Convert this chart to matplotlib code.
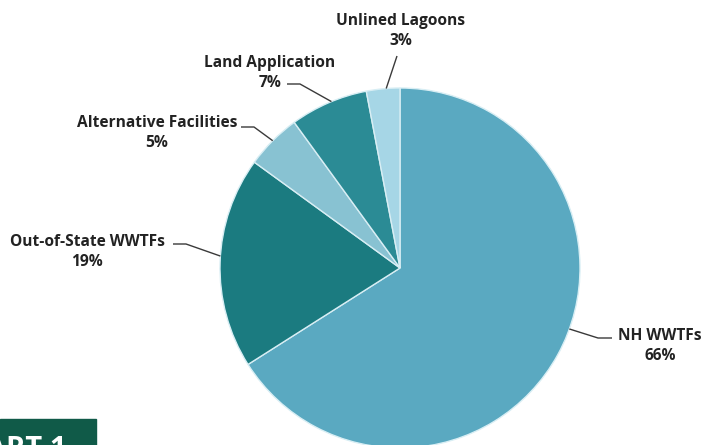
import numpy as np
import matplotlib.pyplot as plt
from matplotlib.patches import Rectangle

# Share of biosolids by management route
labels = ['NH WWTFs', 'Out-of-State WWTFs', 'Alternative Facilities',
          'Land Application', 'Unlined Lagoons']
shares = [66, 19, 5, 7, 3]
colors = ['#5aa9c1', '#1b7b80', '#88c2d2', '#2b8b95', '#a6d6e6']

# label text anchor (centre of text block) and leader-line elbow, in pixels
label_pos = [(660, 346), (87, 252), (157, 133), (270, 73), (401, 31)]
elbows = [(598, 338), (186, 244), (254, 127), (300, 84), (397, 56)]
text_side = ['left', 'right', 'right', 'right', 'center']
# where the leader meets the rim, relative to the wedge's middle (degrees)
rim_shift = [9, -2, 0, -1, -1]

W, H = 704, 445
cx, cy, r = 400, 268, 180

plt.rcParams['font.family'] = ['Open Sans', 'DejaVu Sans']

fig = plt.figure(figsize=(W / 100, H / 100), dpi=100)
ax = fig.add_axes([0, 0, 1, 1])

wedges, _ = ax.pie(shares, colors=colors, startangle=90, counterclock=False,
                   center=(cx, H - cy), radius=r,
                   wedgeprops=dict(edgecolor='#d8eef4', linewidth=1.0))
ax.set_xlim(0, W)
ax.set_ylim(0, H)
ax.set_aspect('equal')
ax.axis('off')

for w, lab, val, (tx, ty), (ex, ey), side, sh in zip(
        wedges, labels, shares, label_pos, elbows, text_side, rim_shift):
    mid = np.deg2rad((w.theta1 + w.theta2) / 2 + sh)
    px = cx + r * np.cos(mid)
    py = (H - cy) + r * np.sin(mid)
    # leader line: from text, via the elbow, to the wedge rim
    if side == 'left':
        start = (ex + 14, ey)
    elif side == 'right':
        start = (ex - 13, ey)
    else:
        start = (ex, ey)
    ax.plot([start[0], ex, px], [H - start[1], H - ey, py],
            color='#3a3a3a', lw=1.0, solid_capstyle='butt')
    ax.text(tx, H - ty, f'{lab}\n{val}%', ha='center', va='center',
            fontsize=11.2, fontweight='bold', color='#222222',
            linespacing=1.3)

# chart tab in the lower-left corner
ax.add_patch(Rectangle((0, 0), 96, H - 419, color='#105a48'))
ax.text(67, H - 435, 'CHART 1', ha='right', va='top', fontsize=21,
        fontweight='bold', color='white')

fig.savefig('out.png', dpi=100)
